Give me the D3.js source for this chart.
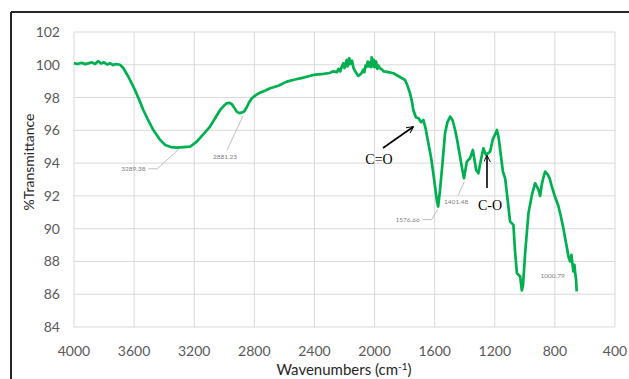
<!DOCTYPE html>
<html>
<head>
<meta charset="utf-8">
<script src="https://cdn.jsdelivr.net/npm/d3@7"></script>
<style>
  body { margin: 0; background: #fff; }
  svg { display: block; }
</style>
</head>
<body>
<div id="chart"></div>
<script>
var W = 629, H = 379;

// spectrum
var wavenumbers = [4000, 3975, 3950, 3925, 3900, 3880, 3860, 3840, 3820, 3800, 3780, 3760, 3740, 3720, 3694, 3672,
  3640, 3605, 3570, 3539, 3505, 3472, 3430, 3394, 3355, 3316, 3270, 3228, 3183, 3140, 3095, 3060, 3028, 3000, 2984,
  2965, 2950, 2935, 2917, 2900, 2884, 2868, 2851, 2835, 2817, 2790, 2762, 2730, 2695, 2640, 2584, 2530, 2480, 2440,
  2407, 2340, 2300, 2274, 2250, 2240, 2228, 2220, 2208, 2200, 2195, 2185, 2180, 2175, 2168, 2160, 2150, 2140, 2125,
  2108, 2090, 2075, 2068, 2060, 2052, 2045, 2040, 2030, 2024, 2019, 2010, 2005, 2000, 1990, 1982, 1975, 1963, 1950,
  1940, 1925, 1910, 1875, 1840, 1797, 1780, 1764, 1752, 1742, 1725, 1708, 1690, 1675, 1660, 1642, 1625, 1609, 1595,
  1585, 1577, 1565, 1552, 1531, 1515, 1497, 1480, 1464, 1450, 1435, 1420, 1405, 1386, 1364, 1346, 1335, 1324, 1309,
  1290, 1276, 1258, 1245, 1231, 1213, 1195, 1186, 1175, 1164, 1146, 1131, 1115, 1098, 1076, 1065, 1053, 1031, 1020,
  1012, 998, 976, 953, 932, 910, 898, 887, 875, 865, 847, 835, 821, 800, 777, 760, 743, 730, 721, 710, 699, 690,
  684, 677, 670, 665, 659, 655, 650];
var transmittance = [100.1, 100.05, 100.12, 100.04, 100.1, 100.15, 100.05, 100.22, 100.08, 100.15, 100.02, 100.1,
  99.98, 100.05, 100.0, 99.8, 99.3, 98.67, 97.95, 97.24, 96.6, 96.02, 95.45, 95.11, 94.98, 94.95, 94.98, 95.0,
  95.31, 95.75, 96.23, 96.75, 97.24, 97.52, 97.65, 97.68, 97.6, 97.4, 97.14, 97.05, 97.08, 97.15, 97.4, 97.7,
  97.96, 98.15, 98.3, 98.42, 98.57, 98.72, 98.97, 99.1, 99.2, 99.3, 99.38, 99.45, 99.5, 99.6, 99.55, 99.75, 99.6,
  99.85, 100.09, 99.8, 99.95, 100.3, 99.9, 100.0, 100.4, 100.05, 100.25, 99.8, 99.55, 99.32, 99.45, 99.7, 99.55,
  99.95, 99.88, 100.2, 99.9, 100.15, 99.85, 100.45, 99.9, 100.3, 99.85, 100.2, 99.75, 99.95, 99.78, 99.7, 99.6,
  99.58, 99.55, 99.48, 99.3, 99.07, 98.7, 98.26, 97.8, 97.24, 96.8, 96.74, 96.5, 96.63, 96.1, 95.21, 94.4, 93.38,
  92.4, 91.7, 91.35, 92.3, 93.58, 95.82, 96.5, 96.84, 96.6, 96.02, 95.4, 94.6, 93.8, 93.07, 94.09, 94.3, 94.8,
  94.2, 93.58, 93.38, 94.3, 94.9, 94.5, 94.6, 94.7, 95.46, 95.8, 96.02, 95.6, 94.8, 93.48, 93.07, 91.8, 90.43,
  90.23, 88.6, 87.29, 87.08, 86.23, 86.57, 88.5, 90.94, 92.06, 92.77, 92.4, 92.0, 92.7, 93.18, 93.48, 93.3, 93.07,
  92.6, 91.96, 91.4, 90.74, 90.0, 89.32, 88.9, 88.3, 88.0, 88.4, 87.9, 87.4, 87.8, 87.29, 86.9, 86.17];

var xTicks = [4000, 3600, 3200, 2800, 2400, 2000, 1600, 1200, 800, 400];
var yTicks = [84, 86, 88, 90, 92, 94, 96, 98, 100, 102];

// peak labels and the points their leader lines run to
var peakLabels = ['3289.38', '2881.23', '1576.66', '1401.48', '1000.79'];
var peakWave = [3300, 2875, 1580, 1402, null];
var peakTrans = [95.0, 97.0, 91.3, 93.0, null];
var labelWave = [3605, 2995, 1780, 1457, 815];
var labelTrans = [93.5, 94.25, 90.4, 91.5, 87.0];

var svg = d3.select('#chart').append('svg')
  .attr('width', W)
  .attr('height', H);

var x = d3.scaleLinear().domain([4000, 400]).range([74, 615]);
var y = d3.scaleLinear().domain([84, 102]).range([327, 32]);

// outer frame (top and left only, the rest is cropped)
svg.append('line').attr('x1', 11).attr('x2', W).attr('y1', 12).attr('y2', 12)
  .attr('stroke', '#262626').attr('stroke-width', 2);
svg.append('line').attr('x1', 11).attr('x2', 11).attr('y1', 12).attr('y2', H)
  .attr('stroke', '#262626').attr('stroke-width', 2);

// grid
svg.append('g').selectAll('line').data(xTicks).enter().append('line')
  .attr('x1', function(d) { return x(d); })
  .attr('x2', function(d) { return x(d); })
  .attr('y1', y(102)).attr('y2', y(84))
  .attr('stroke', '#d9d9d9').attr('stroke-width', 1);
svg.append('g').selectAll('line').data(yTicks).enter().append('line')
  .attr('x1', x(4000)).attr('x2', x(400))
  .attr('y1', function(d) { return y(d); })
  .attr('y2', function(d) { return y(d); })
  .attr('stroke', '#d9d9d9').attr('stroke-width', 1);

// tick labels
svg.append('g').selectAll('text').data(yTicks).enter().append('text')
  .attr('x', 60)
  .attr('y', function(d) { return y(d) + 5; })
  .attr('text-anchor', 'end')
  .attr('font-family', 'Lato, "Open Sans", sans-serif')
  .attr('font-size', 14)
  .attr('fill', '#595959')
  .text(function(d) { return d; });
svg.append('g').selectAll('text').data(xTicks).enter().append('text')
  .attr('x', function(d) { return x(d); })
  .attr('y', 356)
  .attr('text-anchor', 'middle')
  .attr('font-family', 'Lato, "Open Sans", sans-serif')
  .attr('font-size', 14)
  .attr('fill', '#595959')
  .text(function(d) { return d; });

// axis titles
svg.append('text')
  .attr('transform', 'translate(34,162) rotate(-90)')
  .attr('text-anchor', 'middle')
  .attr('font-family', 'Lato, "Open Sans", sans-serif')
  .attr('font-size', 14)
  .attr('fill', '#262626')
  .text('%Transmittance');
var xt = svg.append('text')
  .attr('x', 344).attr('y', 375)
  .attr('text-anchor', 'middle')
  .attr('font-family', 'Lato, "Open Sans", sans-serif')
  .attr('font-size', 15)
  .attr('fill', '#262626');
xt.append('tspan').text('Wavenumbers (cm');
xt.append('tspan').attr('dy', -5).attr('font-size', 10).text('-1');
xt.append('tspan').attr('dy', 5).text(')');

// spectrum
var pts = wavenumbers.map(function(w, i) { return [w, transmittance[i]]; });
var line = d3.line()
  .x(function(d) { return x(d[0]); })
  .y(function(d) { return y(d[1]); });
svg.append('path')
  .datum(pts)
  .attr('d', line)
  .attr('fill', 'none')
  .attr('stroke', '#00b050')
  .attr('stroke-width', 2.7)
  .attr('stroke-linejoin', 'round');

// peak labels with leader lines
peakLabels.forEach(function(lab, i) {
  var lx = x(labelWave[i]), ly = y(labelTrans[i]);
  if (peakWave[i] != null) {
    var px = x(peakWave[i]), py = y(peakTrans[i]);
    var d;
    if (px > lx + 20) {
      // label sits left of the peak: short flat stub, then up to the peak
      d = 'M' + (lx + 15) + ',' + (ly - 2.5) + ' L' + (lx + 24) + ',' + (ly - 2.5) + ' L' + px + ',' + (py + 2);
    } else {
      // label sits under the peak: leader leaves from its top
      d = 'M' + (lx + 2) + ',' + (ly - 9) + ' L' + px + ',' + (py + 2);
    }
    svg.append('path')
      .attr('d', d)
      .attr('fill', 'none')
      .attr('stroke', '#bfbfbf')
      .attr('stroke-width', 1);
  }
  svg.append('text')
    .attr('x', lx).attr('y', ly)
    .attr('text-anchor', 'middle')
    .attr('font-family', 'Lato, sans-serif')
    .attr('font-size', 6.5)
    .attr('fill', '#7f7f7f')
    .text(lab);
});

// annotations
var defs = svg.append('defs');
defs.append('marker')
  .attr('id', 'arr')
  .attr('viewBox', '0 0 10 10')
  .attr('refX', 9).attr('refY', 5)
  .attr('markerWidth', 7).attr('markerHeight', 7)
  .attr('markerUnits', 'userSpaceOnUse')
  .attr('orient', 'auto')
  .append('path')
  .attr('d', 'M0,0 L10,5 L0,10')
  .attr('fill', 'none')
  .attr('stroke', '#000')
  .attr('stroke-width', 1.4);

svg.append('line')
  .attr('x1', 383).attr('y1', 148).attr('x2', 413).attr('y2', 127)
  .attr('stroke', '#000').attr('stroke-width', 1.6)
  .attr('marker-end', 'url(#arr)');
svg.append('text')
  .attr('x', 379).attr('y', 164)
  .attr('text-anchor', 'middle')
  .attr('font-family', '"Liberation Serif", serif')
  .attr('font-size', 14)
  .attr('fill', '#000')
  .text('C=O');

svg.append('line')
  .attr('x1', 487).attr('y1', 188).attr('x2', 487).attr('y2', 156)
  .attr('stroke', '#000').attr('stroke-width', 1.6)
  .attr('marker-end', 'url(#arr)');
svg.append('text')
  .attr('x', 490).attr('y', 210)
  .attr('text-anchor', 'middle')
  .attr('font-family', '"Liberation Serif", serif')
  .attr('font-size', 14)
  .attr('fill', '#000')
  .text('C-O');
</script>
</body>
</html>
